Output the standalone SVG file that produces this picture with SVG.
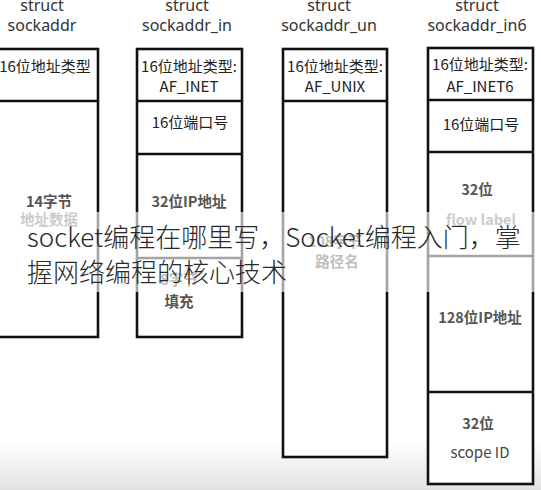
<svg xmlns="http://www.w3.org/2000/svg" width="541" height="490" viewBox="0 0 541 490">
<defs>
<linearGradient id="bottomFade" x1="0" y1="0" x2="0" y2="1">
<stop offset="0" stop-color="#ffffff"/>
<stop offset="1" stop-color="#e2e2e2"/>
</linearGradient>
</defs>
<style>
.box{fill:#ffffff;stroke:#111111;stroke-width:2.6}
.div{stroke:#111111;stroke-width:2.6;fill:none}
.title{font-family:"Noto Sans","Noto Sans CJK SC",sans-serif;font-size:16px;fill:#333333;text-anchor:middle}
.t{font-family:"Noto Sans CJK SC","Noto Sans",sans-serif;font-size:15px;fill:#222222;text-anchor:middle}
.b{font-family:"Noto Sans CJK SC","Noto Sans",sans-serif;font-size:14.5px;font-weight:bold;fill:#555555;text-anchor:middle}
.g{font-family:"Noto Sans CJK SC","Noto Sans",sans-serif;font-size:14.5px;font-weight:bold;fill:#777777;text-anchor:middle}
.ov{font-family:"Noto Sans CJK SC","Noto Sans",sans-serif;font-size:26px;font-weight:300;fill:#2a2a2a}
</style>
<rect x="0" y="0" width="541" height="490" fill="#ffffff"/>
<rect x="0" y="440" width="541" height="50" fill="url(#bottomFade)"/>

<g id="sockaddr">
<text class="title" x="42" y="11">struct</text>
<text class="title" x="42" y="31">sockaddr</text>
<rect class="box" x="-8" y="49" width="106" height="288"/>
<line class="div" x1="-8" y1="101" x2="98" y2="101"/>
<text class="t" x="45" y="72">16位地址类型</text>
<text class="b" x="49" y="207">14字节</text>
<text class="g" x="49" y="225">地址数据</text>
</g>

<g id="sockaddr_in">
<text class="title" x="187" y="11">struct</text>
<text class="title" x="187" y="31">sockaddr_in</text>
<rect class="box" x="137" y="49" width="105" height="288"/>
<line class="div" x1="137" y1="101" x2="242" y2="101"/>
<line class="div" x1="137" y1="154" x2="242" y2="154"/>
<line class="div" x1="137" y1="258" x2="242" y2="258"/>
<text class="t" x="189" y="72">16位地址类型:</text>
<text class="t" x="189" y="92">AF_INET</text>
<text class="t" x="190" y="128">16位端口号</text>
<text class="b" x="189" y="207">32位IP地址</text>
<text class="b" x="179" y="285">8字节</text>
<text class="b" x="179" y="307">填充</text>
</g>

<g id="sockaddr_un">
<text class="title" x="329" y="11">struct</text>
<text class="title" x="329" y="31">sockaddr_un</text>
<rect class="box" x="283" y="49" width="104" height="408"/>
<line class="div" x1="283" y1="101" x2="387" y2="101"/>
<text class="t" x="335" y="72">16位地址类型:</text>
<text class="t" x="335" y="92">AF_UNIX</text>
<text class="b" x="335" y="247">108字节</text>
<text class="b" x="337" y="267">路径名</text>
</g>

<g id="sockaddr_in6">
<text class="title" x="477" y="11">struct</text>
<text class="title" x="477" y="31">sockaddr_in6</text>
<rect class="box" x="428" y="48" width="105" height="436"/>
<line class="div" x1="428" y1="100" x2="533" y2="100"/>
<line class="div" x1="428" y1="152" x2="533" y2="152"/>
<line class="div" x1="428" y1="256" x2="533" y2="256"/>
<line class="div" x1="428" y1="392" x2="533" y2="392"/>
<text class="t" x="480" y="70">16位地址类型:</text>
<text class="t" x="480" y="92">AF_INET6</text>
<text class="t" x="481" y="130">16位端口号</text>
<text class="b" x="477" y="195">32位</text>
<text class="g" x="481" y="225">flow label</text>
<text class="b" x="480" y="323">128位IP地址</text>
<text class="b" x="478" y="429">32位</text>
<text class="t" x="480" y="458" style="fill:#444444">scope ID</text>
</g>

<g id="overlay">
<rect x="0" y="212" width="541" height="80" fill="#ffffff" fill-opacity="0.62"/>
<text class="ov" x="27" y="247">socket编程在哪里写，Socket编程入门，掌</text>
<text class="ov" x="27" y="282">握网络编程的核心技术</text>
</g>
</svg>
